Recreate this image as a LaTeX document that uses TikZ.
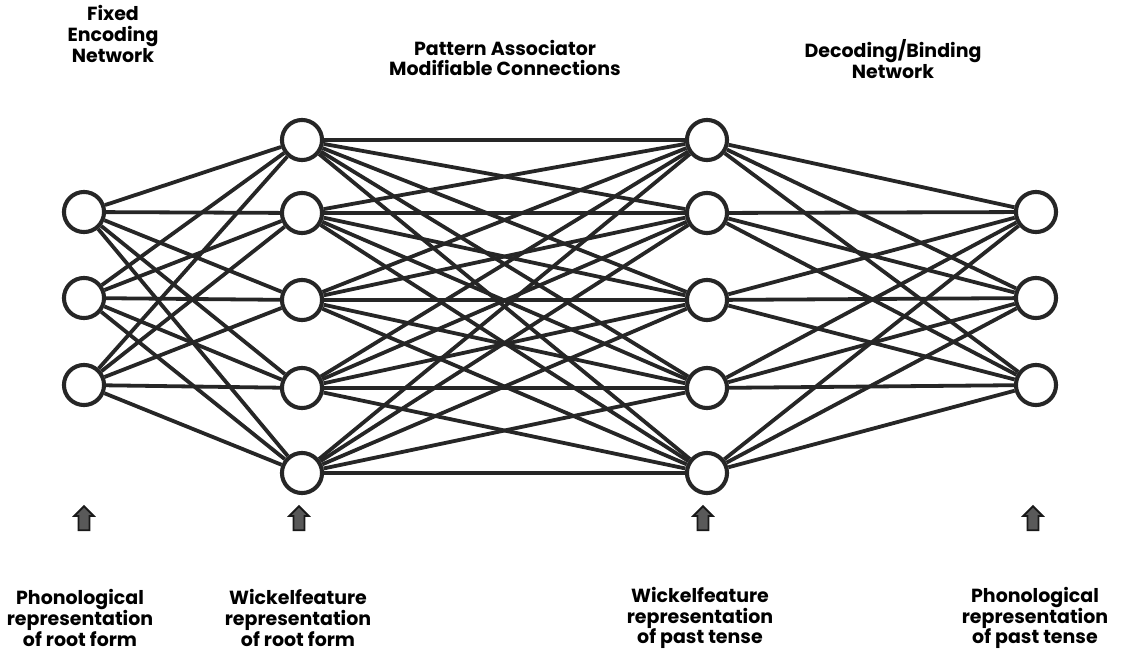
\documentclass[tikz,border=0pt]{standalone}
\usepackage{fontspec}
\setmainfont{Poppins}
\usetikzlibrary{shapes.arrows}

\begin{document}
\begin{tikzpicture}[x=0.025cm, y=-0.025cm]
    \tikzset{unit/.style={circle, draw=black!85, fill=white, line width=2.9pt, minimum size=28.5pt, inner sep=0pt}}
    \tikzset{link/.style={black!85, line width=2.7pt}}
    \tikzset{caption/.style={align=center, font=\bfseries\fontsize{13.5}{14.8}\selectfont}}
    \tikzset{uparrow/.style={single arrow, shape border rotate=90, draw=black!90, fill=black!65, line width=1.3pt, minimum height=17pt, inner sep=3.3pt, single arrow head extend=3pt}}

    % page frame
    \useasboundingbox (0,0) rectangle (1127,653);

    % input units (phonological, root form)
    \node[unit] (root1) at (84,212) {};
    \node[unit] (root2) at (84,298) {};
    \node[unit] (root3) at (84,385) {};

    % wickelfeature units, root form
    \node[unit] (wroot1) at (302,140) {};
    \node[unit] (wroot2) at (302,213) {};
    \node[unit] (wroot3) at (302,300) {};
    \node[unit] (wroot4) at (302,388) {};
    \node[unit] (wroot5) at (302,473) {};

    % wickelfeature units, past tense
    \node[unit] (wpast1) at (707,140) {};
    \node[unit] (wpast2) at (707,213) {};
    \node[unit] (wpast3) at (707,300) {};
    \node[unit] (wpast4) at (707,388) {};
    \node[unit] (wpast5) at (707,473) {};

    % output units (phonological, past tense)
    \node[unit] (past1) at (1036,212) {};
    \node[unit] (past2) at (1036,298) {};
    \node[unit] (past3) at (1036,385) {};

    % connections
    \foreach \i in {1,2,3} \foreach \j in {1,...,5}
      \draw[link] (root\i) -- (wroot\j);
    \foreach \i in {1,...,5} \foreach \j in {1,...,5}
      \draw[link] (wroot\i) -- (wpast\j);
    \foreach \i in {1,...,5} \foreach \j in {1,2,3}
      \draw[link] (wpast\i) -- (past\j);

    % network titles
    \node[caption] (title1) at (113,34) {Fixed\\Encoding\\Network};
    \node[caption] (title2) at (505,58) {Pattern Associator\\Modifiable Connections};
    \node[caption] (title3) at (893,59) {Decoding/Binding\\Network};

    % input arrows
    \node[uparrow] (arrow1) at (84,521) {};
    \node[uparrow] (arrow2) at (299,521) {};
    \node[uparrow] (arrow3) at (703,521) {};
    \node[uparrow] (arrow4) at (1033,521) {};

    % representations
    \node[caption] (rep1) at (80,618) {Phonological\\representation\\of root form};
    \node[caption] (rep2) at (298,618) {Wickelfeature\\representation\\of root form};
    \node[caption] (rep3) at (700,618) {Wickelfeature\\representation\\of past tense};
    \node[caption] (rep4) at (1035,618) {Phonological\\representation\\of past tense};

  \end{tikzpicture}
\end{document}
